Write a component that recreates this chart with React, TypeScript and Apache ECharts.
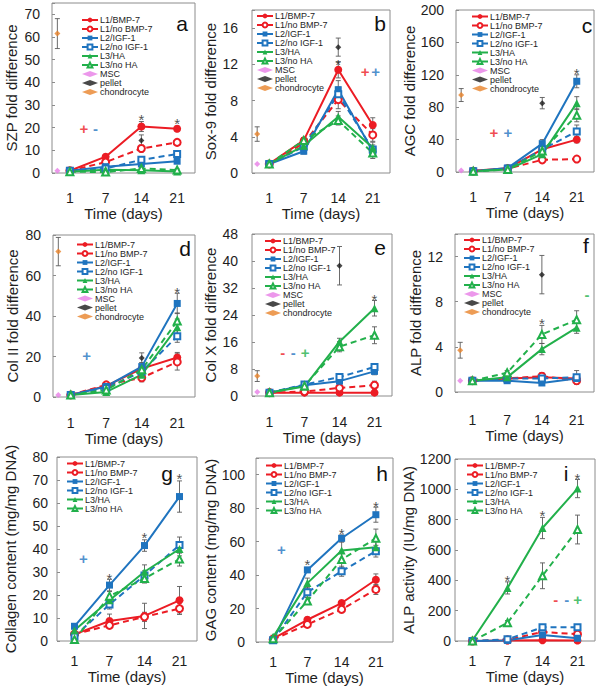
import React, { useEffect, useRef } from 'react';
import * as echarts from 'echarts';

// ---------- shared categories ----------
const dayLabels = ['1', '7', '14', '21'];
const dayPositions = [1, 2, 3, 4];
const referencePosition = 0.65;
const groupNames = ['L1/BMP-7', 'L1/no BMP-7', 'L2/IGF-1', 'L2/no IGF-1', 'L3/HA', 'L3/no HA'];
const referenceNames = ['MSC', 'pellet', 'chondrocyte'];

// ---------- a: SZP fold difference ----------
const szpMeans = [
  [1.0, 7.2, 20.5, 19.5],
  [1.0, 4.8, 10.8, 13.5],
  [1.0, 2.8, 4.0, 5.2],
  [1.0, 2.0, 5.8, 8.4],
  [0.6, 1.4, 1.2, 0.7],
  [0.6, 0.4, 2.0, 1.3],
];
const szpErrors = [
  [0.3, 1.0, 2.2, 1.2],
  [0.3, 1.0, 1.5, 1.2],
  [0.2, 0.5, 1.0, 0.8],
  [0.2, 0.5, 1.0, 0.9],
  [0.2, 0.3, 0.5, 0.3],
  [0.2, 0.3, 0.5, 0.5],
];
const szpMsc = [1.0];
const szpPellet = [14.3, 2.5];
const szpChondrocyte = [61.5, 6.6];
const szpStars = [[3, 25.5], [4, 23.7]];
const szpSigns = [[1.39, 19.5, '+', 0], [1.72, 19.5, '-', 1]];

// ---------- b: Sox-9 fold difference ----------
const sox9Means = [
  [1.0, 3.6, 11.4, 5.3],
  [1.0, 3.3, 8.1, 4.2],
  [1.0, 2.4, 9.2, 2.4],
  [1.0, 2.9, 8.7, 2.6],
  [1.0, 3.0, 6.2, 2.8],
  [1.0, 3.6, 5.8, 2.2],
];
const sox9Errors = [
  [0.2, 0.3, 0.9, 0.8],
  [0.2, 0.3, 1.0, 0.7],
  [0.2, 0.3, 1.0, 0.5],
  [0.2, 0.3, 0.8, 0.5],
  [0.2, 0.3, 0.6, 0.6],
  [0.2, 0.3, 0.5, 0.6],
];
const sox9Msc = [1.0];
const sox9Pellet = [13.9, 1.0];
const sox9Chondrocyte = [4.3, 0.8];
const sox9Stars = [[3, 12.4]];
const sox9Signs = [[3.78, 11.2, '+', 0], [4.08, 11.2, '+', 1]];

// ---------- c: AGC fold difference ----------
const agcMeans = [
  [1.5, 4.5, 28, 40],
  [1.0, 4.0, 15, 16],
  [1.0, 5.0, 35, 112],
  [1.0, 4.0, 28, 50],
  [1.0, 3.0, 22, 85],
  [1.0, 3.0, 26, 70],
];
const agcErrors = [
  [0.5, 1, 3, 4],
  [0.5, 1, 2, 2],
  [0.5, 1, 5, 8],
  [0.5, 1, 3, 8],
  [0.5, 1, 3, 8],
  [0.5, 1, 3, 8],
];
const agcMsc = [2];
const agcPellet = [85, 7];
const agcChondrocyte = [95, 8];
const agcStars = [[4, 127]];
const agcSigns = [[1.6, 49, '+', 0], [2.0, 49, '+', 1]];

// ---------- d: Col II fold difference ----------
const col2Means = [
  [1.0, 5.5, 14.0, 19.5],
  [1.0, 6.0, 9.5, 17.3],
  [1.0, 5.2, 15.0, 46.2],
  [1.0, 4.5, 12.5, 30.0],
  [1.0, 2.5, 11.0, 34.5],
  [1.0, 3.5, 13.5, 37.5],
];
const col2Errors = [
  [0.3, 1.0, 1.5, 2.5],
  [0.3, 1.0, 2.0, 4.0],
  [0.3, 1.0, 2.0, 5.0],
  [0.3, 1.0, 2.0, 3.0],
  [0.3, 0.8, 2.0, 4.0],
  [0.3, 0.8, 2.0, 4.0],
];
const col2Msc = [1.0];
const col2Pellet = [19.3, 2.5];
const col2Chondrocyte = [71.8, 7.0];
const col2Stars = [[4, 53.6]];
const col2Signs = [[1.45, 20.6, '+', 1]];

// ---------- e: Col X fold difference ----------
const col10Means = [
  [1.0, 1.0, 1.0, 1.0],
  [1.0, 1.3, 2.4, 3.2],
  [1.0, 3.2, 4.4, 7.3],
  [1.0, 3.4, 5.6, 8.6],
  [1.0, 2.8, 16.1, 26.0],
  [1.0, 3.0, 14.6, 18.0],
];
const col10Errors = [
  [0.2, 0.2, 0.2, 0.3],
  [0.2, 0.3, 0.5, 1.2],
  [0.2, 0.4, 0.6, 1.0],
  [0.2, 0.4, 0.6, 1.0],
  [0.2, 0.4, 1.0, 2.3],
  [0.2, 0.4, 1.5, 2.5],
];
const col10Msc = [1.2];
const col10Pellet = [38.6, 5.7];
const col10Chondrocyte = [5.9, 1.6];
const col10Stars = [[4, 29.7]];
const col10Signs = [[1.38, 12.8, '-', 0], [1.68, 12.8, '-', 1], [2.02, 12.8, '+', 2]];

// ---------- f: ALP fold difference ----------
const alpFoldMeans = [
  [1.0, 1.2, 1.3, 1.2],
  [1.0, 1.2, 1.4, 1.0],
  [1.0, 1.0, 0.8, 1.2],
  [1.0, 1.2, 1.2, 1.3],
  [1.0, 1.3, 3.8, 5.7],
  [1.0, 1.7, 5.1, 6.4],
];
const alpFoldErrors = [
  [0.1, 0.2, 0.3, 0.3],
  [0.1, 0.2, 0.3, 0.3],
  [0.1, 0.2, 0.2, 0.3],
  [0.1, 0.2, 0.2, 0.6],
  [0.1, 0.2, 0.5, 0.5],
  [0.1, 0.2, 0.8, 0.8],
];
const alpFoldMsc = [1.0];
const alpFoldPellet = [10.4, 1.7];
const alpFoldChondrocyte = [3.7, 0.7];
const alpFoldStars = [[3, 6.4]];
const alpFoldSigns = [[4.3, 8.6, '-', 2]];

// ---------- g: Collagen content ----------
const collagenMeans = [
  [2.9, 8.7, 10.9, 17.7],
  [3.0, 6.8, 10.5, 14.1],
  [6.4, 24.3, 41.5, 62.8],
  [2.0, 15.9, 28.5, 41.7],
  [4.7, 17.7, 30.1, 40.0],
  [0.6, 19.5, 27.2, 35.6],
];
const collagenErrors = [
  [1.0, 3.0, 5.5, 6.0],
  [1.0, 1.0, 2.0, 2.5],
  [1.0, 2.5, 2.5, 6.8],
  [1.0, 2.0, 2.0, 3.5],
  [1.0, 2.0, 3.0, 3.0],
  [1.0, 2.0, 2.0, 3.0],
];
const collagenStars = [[2, 28.7], [3, 46.8], [4, 72.3]];
const collagenSigns = [[1.25, 35.9, '+', 1]];

// ---------- h: GAG content ----------
const gagMeans = [
  [2.0, 13.3, 23.3, 37.2],
  [1.5, 10.5, 19.5, 31.4],
  [1.0, 43.1, 62.0, 76.1],
  [1.0, 29.8, 42.3, 54.3],
  [3.0, 35.2, 54.7, 56.7],
  [2.0, 24.5, 49.3, 62.0],
];
const gagErrors = [
  [1.0, 1.5, 1.5, 3.5],
  [1.0, 1.5, 2.0, 3.0],
  [1.0, 1.5, 2.0, 4.5],
  [1.0, 3.0, 3.0, 3.5],
  [1.0, 3.0, 5.0, 4.0],
  [1.0, 2.0, 5.0, 5.5],
];
const gagStars = [[2, 48.7], [3, 67.2], [4, 83.5]];
const gagSigns = [[1.24, 55.3, '+', 1]];

// ---------- i: ALP activity ----------
const alpActivityMeans = [
  [0, 3, 5, 3],
  [0, 8, 60, 45],
  [0, 4, 40, 18],
  [0, 12, 90, 90],
  [5, 350, 745, 1005],
  [0, 120, 430, 735],
];
const alpActivityErrors = [
  [2, 3, 5, 5],
  [2, 5, 10, 10],
  [2, 3, 8, 8],
  [2, 5, 10, 15],
  [3, 40, 70, 60],
  [3, 15, 85, 95],
];
const alpActivityStars = [[2, 423], [3, 853], [4, 1100]];
const alpActivitySigns = [[3.38, 273, '-', 0], [3.69, 273, '-', 1], [4.0, 273, '+', 2]];

// ---------- styles ----------
const FONT = 'Liberation Sans, Arial, sans-serif';
const TEXT = '#1e1e1e';
const RED = '#ec1c24';
const BLUE = '#1f74bf';
const GREEN = '#22b04b';
const signColors = [RED, BLUE, GREEN];
const groupColors = [RED, RED, BLUE, BLUE, GREEN, GREEN];
const groupSymbols = ['circle', 'emptyCircle', 'rect', 'emptyRect', 'triangle', 'emptyTriangle'];
const groupSymbolSizes = [8, 7, 7, 6, 8, 7];
const groupDashed = [false, true, false, true, false, true];
const refColors = ['#e77de6', '#1a1a1a', '#e8832a'];

const panels = [
  { letter: 'a', yName: 'SZP fold difference', yMax: 75, yStep: 10, means: szpMeans, errors: szpErrors, msc: szpMsc, pellet: szpPellet, chondrocyte: szpChondrocyte, stars: szpStars, signs: szpSigns },
  { letter: 'b', yName: 'Sox-9 fold difference', yMax: 18, yStep: 4, means: sox9Means, errors: sox9Errors, msc: sox9Msc, pellet: sox9Pellet, chondrocyte: sox9Chondrocyte, stars: sox9Stars, signs: sox9Signs },
  { letter: 'c', yName: 'AGC fold difference', yMax: 200, yStep: 40, means: agcMeans, errors: agcErrors, msc: agcMsc, pellet: agcPellet, chondrocyte: agcChondrocyte, stars: agcStars, signs: agcSigns },
  { letter: 'd', yName: 'Col II fold difference', yMax: 80, yStep: 20, means: col2Means, errors: col2Errors, msc: col2Msc, pellet: col2Pellet, chondrocyte: col2Chondrocyte, stars: col2Stars, signs: col2Signs },
  { letter: 'e', yName: 'Col X fold difference', yMax: 48, yStep: 8, means: col10Means, errors: col10Errors, msc: col10Msc, pellet: col10Pellet, chondrocyte: col10Chondrocyte, stars: col10Stars, signs: col10Signs },
  { letter: 'f', yName: 'ALP fold difference', yMax: 14, yStep: 4, means: alpFoldMeans, errors: alpFoldErrors, msc: alpFoldMsc, pellet: alpFoldPellet, chondrocyte: alpFoldChondrocyte, stars: alpFoldStars, signs: alpFoldSigns },
  { letter: 'g', yName: 'Collagen content (mg/mg DNA)', yMax: 80, yStep: 10, means: collagenMeans, errors: collagenErrors, stars: collagenStars, signs: collagenSigns },
  { letter: 'h', yName: 'GAG content (mg/mg DNA)', yMax: 110, yStep: 20, means: gagMeans, errors: gagErrors, stars: gagStars, signs: gagSigns },
  { letter: 'i', yName: 'ALP activity (IU/mg DNA)', yMax: 1200, yStep: 200, means: alpActivityMeans, errors: alpActivityErrors, stars: alpActivityStars, signs: alpActivitySigns },
];

const layouts = [
  { left: 52, top: 3, width: 143, height: 170, yGap: 33, yMargin: 12, xMargin: 18, xGap: 31, lgLeft: 81, lgTop: 15.5, lx: 182, ly: 23 },
  { left: 252, top: 10, width: 138, height: 163, yGap: 34, yMargin: 14, xMargin: 18, xGap: 31, lgLeft: 256, lgTop: 11.5, lx: 380, ly: 23 },
  { left: 456, top: 10, width: 138, height: 162, yGap: 37, yMargin: 12, xMargin: 18, xGap: 31, lgLeft: 471, lgTop: 12, lx: 587, ly: 25 },
  { left: 53, top: 235, width: 142, height: 162, yGap: 33, yMargin: 12, xMargin: 19, xGap: 30, lgLeft: 76, lgTop: 240, lx: 185, ly: 248 },
  { left: 252, top: 234, width: 140, height: 162, yGap: 34, yMargin: 14, xMargin: 19, xGap: 30, lgLeft: 264, lgTop: 236.5, lx: 380, ly: 247 },
  { left: 455, top: 234, width: 139, height: 158, yGap: 32, yMargin: 12, xMargin: 21, xGap: 33, lgLeft: 463, lgTop: 235.5, lx: 586, ly: 245 },
  { left: 57, top: 457, width: 140, height: 184, yGap: 39, yMargin: 9, xMargin: 13, xGap: 23, lgLeft: 66, lgTop: 459, lx: 167, ly: 473 },
  { left: 256, top: 458, width: 137, height: 184, yGap: 35, yMargin: 11, xMargin: 13, xGap: 23, lgLeft: 265, lgTop: 461, lx: 382, ly: 473 },
  { left: 455, top: 459, width: 140, height: 182, yGap: 37, yMargin: 4, xMargin: 13, xGap: 23, lgLeft: 466, lgTop: 461, lx: 566, ly: 473 },
];

function errorBarRender(params: any, api: any) {
  const x = api.value(0);
  const lo = api.value(1);
  const hi = api.value(2);
  const top = api.coord([x, hi]);
  const bot = api.coord([x, lo]);
  const w = 2.5;
  const style = { stroke: '#5a5a5a', lineWidth: 0.9, fill: null };
  return {
    type: 'group',
    children: [
      { type: 'line', shape: { x1: top[0], y1: top[1], x2: bot[0], y2: bot[1] }, style },
      { type: 'line', shape: { x1: top[0] - w, y1: top[1], x2: top[0] + w, y2: top[1] }, style },
      { type: 'line', shape: { x1: bot[0] - w, y1: bot[1], x2: bot[0] + w, y2: bot[1] }, style },
    ],
  };
}

function buildOption() {
  const grid: any[] = [];
  const xAxis: any[] = [];
  const yAxis: any[] = [];
  const series: any[] = [];
  const legend: any[] = [];
  const graphic: any[] = [];

  panels.forEach((p: any, i) => {
    const L = layouts[i];
    const hasRefs = !!p.msc;
    grid.push({
      left: L.left, top: L.top, width: L.width, height: L.height,
      show: true, borderColor: '#8c8c8c', borderWidth: 1, backgroundColor: 'transparent',
    });
    xAxis.push({
      type: 'value', gridIndex: i, min: 0.5, max: 4.5, interval: 0.5,
      axisLine: { show: false }, axisTick: { show: false }, splitLine: { show: false },
      axisLabel: {
        margin: L.xMargin, fontSize: 14, color: TEXT, fontFamily: FONT,
        formatter: (v: number) => {
          const k = dayPositions.indexOf(v);
          return k >= 0 ? dayLabels[k] : '';
        },
      },
      name: 'Time (days)', nameLocation: 'middle', nameGap: L.xGap,
      nameTextStyle: { fontSize: 15, fontWeight: 'normal', color: TEXT, fontFamily: FONT },
    });
    yAxis.push({
      type: 'value', gridIndex: i, min: 0, max: p.yMax, interval: p.yStep,
      axisLine: { show: false },
      axisTick: { show: true, inside: true, length: 3, lineStyle: { color: '#8c8c8c' } },
      splitLine: { show: false },
      axisLabel: {
        margin: L.yMargin, fontSize: 14, color: TEXT, fontFamily: FONT,
        formatter: (v: number) => (Math.abs(v % p.yStep) < 1e-9 ? String(v) : ''),
      },
      name: p.yName, nameLocation: 'middle', nameGap: L.yGap,
      nameTextStyle: { fontSize: 15, fontWeight: 'normal', color: TEXT, fontFamily: FONT },
    });

    // error bars
    const bars: number[][] = [];
    p.means.forEach((row: number[], k: number) => {
      row.forEach((v: number, j: number) => {
        const e = p.errors[k][j];
        bars.push([dayPositions[j], v - e, v + e]);
      });
    });
    if (hasRefs) {
      bars.push([referencePosition, p.chondrocyte[0] - p.chondrocyte[1], p.chondrocyte[0] + p.chondrocyte[1]]);
      bars.push([dayPositions[2], p.pellet[0] - p.pellet[1], p.pellet[0] + p.pellet[1]]);
    }
    series.push({
      type: 'custom', name: 'error bars ' + p.letter, xAxisIndex: i, yAxisIndex: i,
      renderItem: errorBarRender, data: bars, encode: { x: 0, y: [1, 2] }, z: 2, silent: true,
    });

    groupNames.forEach((name, k) => {
      series.push({
        type: 'line', name, xAxisIndex: i, yAxisIndex: i,
        data: p.means[k].map((v: number, j: number) => [dayPositions[j], v]),
        symbol: groupSymbols[k], symbolSize: groupSymbolSizes[k],
        lineStyle: { color: groupColors[k], width: 2, type: groupDashed[k] ? [6, 4] : 'solid' },
        itemStyle: { color: groupColors[k], borderColor: groupColors[k], borderWidth: groupDashed[k] ? 1.6 : 0 },
        z: 3, silent: true,
      });
    });

    if (hasRefs) {
      const refData = [
        [[referencePosition, p.msc[0]]],
        [[dayPositions[2], p.pellet[0]]],
        [[referencePosition, p.chondrocyte[0]]],
      ];
      referenceNames.forEach((name, k) => {
        series.push({
          type: 'scatter', name, xAxisIndex: i, yAxisIndex: i, data: refData[k],
          symbol: 'diamond', symbolSize: 6, itemStyle: { color: refColors[k] }, z: 4, silent: true,
        });
      });
    }

    series.push({
      type: 'scatter', name: 'significance ' + p.letter, xAxisIndex: i, yAxisIndex: i,
      data: p.stars, symbol: 'circle', symbolSize: 1, itemStyle: { color: 'rgba(0,0,0,0)' },
      label: { show: true, position: 'inside', formatter: '*', fontSize: 15, color: TEXT, fontFamily: FONT, offset: [0, 4] },
      z: 5, silent: true,
    });

    series.push({
      type: 'scatter', name: 'signs ' + p.letter, xAxisIndex: i, yAxisIndex: i,
      data: p.signs.map((s: any[]) => ({
        value: [s[0], s[1]], sign: s[2],
        label: { color: signColors[s[3]] },
      })),
      symbol: 'circle', symbolSize: 1, itemStyle: { color: 'rgba(0,0,0,0)' },
      label: {
        show: true, position: 'inside', fontSize: 15, fontWeight: 'bold', fontFamily: FONT,
        formatter: (prm: any) => prm.data.sign,
      },
      z: 5, silent: true,
    });

    const legendData = hasRefs
      ? [...groupNames, ...referenceNames.map((n) => ({ name: n, icon: 'diamond' }))]
      : [...groupNames];
    legend.push({
      orient: 'vertical', left: L.lgLeft, top: L.lgTop, padding: 0,
      itemWidth: 16, itemHeight: 6, itemGap: 0,
      selectedMode: false,
      data: legendData,
      textStyle: { fontSize: 9, lineHeight: 9, color: TEXT, fontFamily: FONT, padding: [0, 0, 0, -3] },
    });

    graphic.push({
      type: 'text', x: L.lx, y: L.ly, silent: true,
      style: { text: p.letter, fontSize: 21, fontFamily: FONT, fill: '#111', align: 'center', verticalAlign: 'middle' },
    });
  });

  return {
    animation: false,
    backgroundColor: '#ffffff',
    grid, xAxis, yAxis, series, legend, graphic,
  };
}

export default function App() {
  const ref = useRef<HTMLDivElement | null>(null);
  useEffect(() => {
    if (!ref.current) return;
    const chart = echarts.init(ref.current, undefined, { renderer: 'svg' });
    chart.setOption(buildOption() as any);
    return () => chart.dispose();
  }, []);
  return (
    <div
      ref={ref}
      style={{ position: 'absolute', left: 0, top: 0, width: 604, height: 690, background: '#fff' }}
    />
  );
}
